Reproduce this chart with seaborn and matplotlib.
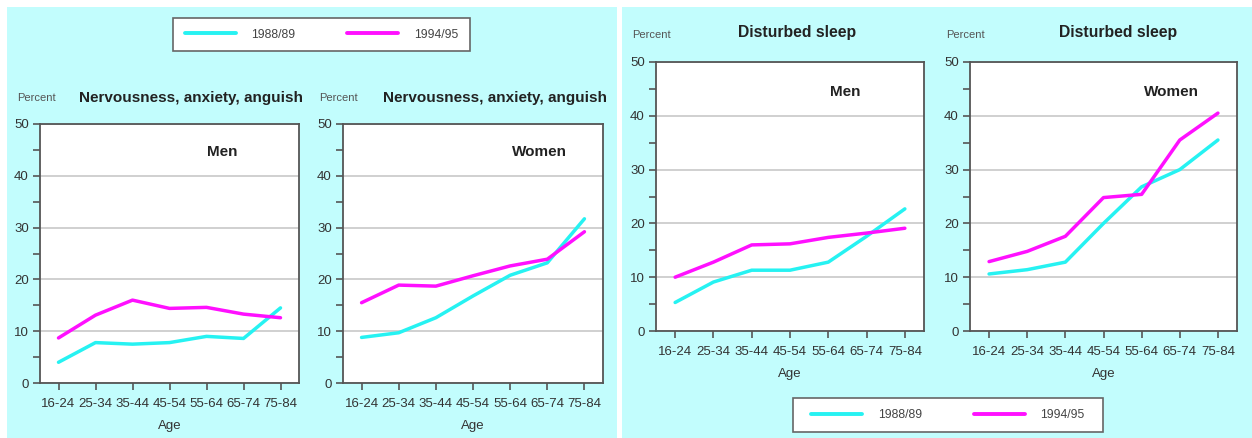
import numpy as np
import pandas as pd
import matplotlib
matplotlib.use("Agg")
import matplotlib.pyplot as plt
from matplotlib.patches import Rectangle
from matplotlib.lines import Line2D
import seaborn as sns

sns.set_style("white")
plt.rcParams["font.family"] = ["Liberation Sans", "DejaVu Sans"]

# data
ages = ["16-24", "25-34", "35-44", "45-54", "55-64", "65-74", "75-84"]
years = ["1988/89", "1994/95"]

nerv_men_88 = [4.0, 7.8, 7.5, 7.8, 9.0, 8.6, 14.5]
nerv_men_94 = [8.7, 13.1, 16.0, 14.4, 14.6, 13.3, 12.6]
nerv_women_88 = [8.8, 9.7, 12.6, 16.8, 20.8, 23.2, 31.7]
nerv_women_94 = [15.5, 18.9, 18.7, 20.7, 22.6, 23.9, 29.2]
sleep_men_88 = [5.3, 9.1, 11.3, 11.3, 12.8, 17.6, 22.7]
sleep_men_94 = [10.0, 12.8, 16.0, 16.2, 17.4, 18.2, 19.1]
sleep_women_88 = [10.6, 11.4, 12.8, 20.0, 26.8, 30.0, 35.5]
sleep_women_94 = [12.9, 14.8, 17.6, 24.8, 25.4, 35.5, 40.5]

colors = {"1988/89": "#26f2f2", "1994/95": "#ff10ff"}
bg = "#c2fdfd"

W, H = 1252, 438
fig = plt.figure(figsize=(W / 100, H / 100), dpi=100)
fig.patch.set_facecolor("white")


def px_rect(l, r, t, b, **kw):
    rect = Rectangle((l / W, 1 - b / H), (r - l) / W, (b - t) / H,
                     transform=fig.transFigure, **kw)
    fig.patches.append(rect)
    return rect


# cyan background blocks
px_rect(7, 617, 7, 438, facecolor=bg, edgecolor="none", zorder=-5)
px_rect(622, 1252, 7, 438, facecolor=bg, edgecolor="none", zorder=-5)


def px_axes(left, right, top, bottom):
    return fig.add_axes([left / W, 1 - bottom / H, (right - left) / W, (bottom - top) / H])


def make_df(v88, v94):
    return pd.DataFrame({
        "Age": ages * 2,
        "Percent": v88 + v94,
        "Year": [years[0]] * len(ages) + [years[1]] * len(ages),
    })


nerv = "Nervousness, anxiety, anguish"
sleep = "Disturbed sleep"
# data, sex label, title, axes box in pixels, title x (axes fraction)
panels = [
    (make_df(nerv_men_88, nerv_men_94), "Men", nerv, (40, 299, 124, 383), None),
    (make_df(nerv_women_88, nerv_women_94), "Women", nerv, (343, 603, 124, 383), None),
    (make_df(sleep_men_88, sleep_men_94), "Men", sleep, (656, 924, 62, 331), 0.526),
    (make_df(sleep_women_88, sleep_women_94), "Women", sleep, (970, 1237, 62, 331), 0.556),
]

for df, sex, title, (l, r, t, b), tx in panels:
    ax = px_axes(l, r, t, b)
    ax.set_facecolor("white")
    sns.lineplot(data=df, x="Age", y="Percent", hue="Year", palette=colors,
                 linewidth=2.5, ax=ax, legend=False, sort=False)
    ax.set_xlim(-0.5, len(ages) - 0.5)
    ax.set_ylim(0, 50)
    ax.set_yticks([0, 10, 20, 30, 40, 50])
    ax.set_yticks([5, 15, 25, 35, 45], minor=True)
    ax.grid(axis="y", which="major", color="#c8c8c8", linewidth=1.2)
    ax.set_axisbelow(True)
    for s in ax.spines.values():
        s.set_color("#555555")
        s.set_linewidth(1.3)
    ax.tick_params(axis="both", which="both", direction="out", length=5, width=1.2,
                   color="#555555", labelcolor="#333333", labelsize=9.5, pad=3,
                   left=True, bottom=True)
    ax.tick_params(axis="x", pad=6)
    ax.set_ylabel("")
    ax.set_xlabel("Age", fontsize=9.5, color="#333333", labelpad=7)
    sx = 0.705 if sex == "Men" else 0.755
    ax.text(sx, 0.89, sex, transform=ax.transAxes, fontsize=11, fontweight="bold",
            color="#222222", ha="center", va="center")
    # "Percent" and title above the axes
    ax.text(-0.09, 1.1, "Percent", transform=ax.transAxes, fontsize=8,
            color="#555555", ha="left", va="center")
    if tx is None:
        ax.text(1.015, 1.1, title, transform=ax.transAxes, fontsize=11,
                fontweight="bold", color="#222222", ha="right", va="center")
    else:
        ax.text(tx, 1.11, title, transform=ax.transAxes, fontsize=11.3,
                fontweight="bold", color="#222222", ha="center", va="center")

handles = [Line2D([], [], color=colors[y], linewidth=2.8) for y in years]


def px_legend(l, r, t, b):
    px_rect(l, r, t, b, facecolor="white", edgecolor="#666666", linewidth=1.2, zorder=1)
    leg = fig.legend(handles, years, ncol=2, loc="center",
                     bbox_to_anchor=((l + r) / 2 / W, 1 - (t + b) / 2 / H),
                     frameon=False, fontsize=8.7,
                     handlelength=4.2, columnspacing=4.3, borderaxespad=0,
                     borderpad=0, handletextpad=1.3)
    leg.set_zorder(2)
    for txt in leg.get_texts():
        txt.set_color("#444444")
    return leg


leg1 = px_legend(173, 470, 18, 51)
leg2 = px_legend(793, 1103, 398, 432)

fig.savefig("out.png", dpi=100, facecolor=fig.get_facecolor())
